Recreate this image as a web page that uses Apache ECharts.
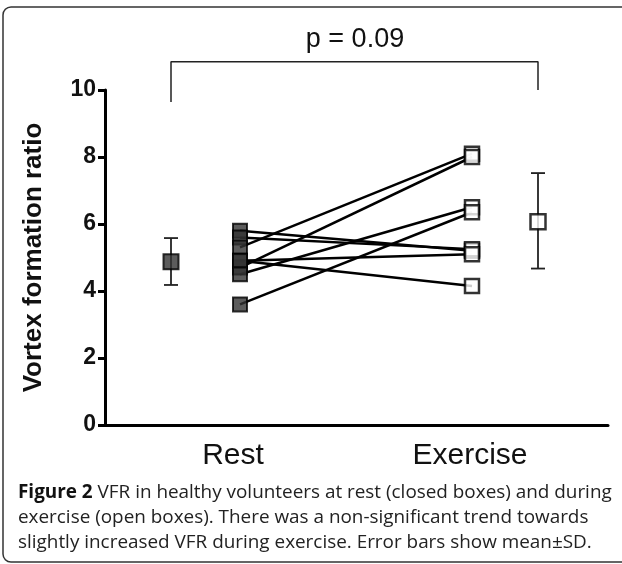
<!DOCTYPE html>
<html><head><meta charset="utf-8">
<script src="https://cdn.jsdelivr.net/npm/echarts@6/dist/echarts.min.js"></script>
<style>html,body{margin:0;padding:0;background:#fff}#c{width:622px;height:564px}</style>
</head><body><div id="c"></div>
<script>
// data
const restValues     = [5.8, 5.6, 5.3, 4.7, 4.9, 4.9, 4.5, 3.6];
const exerciseValues = [5.2, 5.25, 8.1, 8.0, 5.1, 4.15, 6.5, 6.35];
const meanRest = 4.87, sdLowRest = 4.18, sdHighRest = 5.58;
const meanEx = 6.07, sdLowEx = 4.67, sdHighEx = 7.52;
const groupLabels = ['Rest', 'Exercise'];
const pText = 'p = 0.09';
const bracketTop = 10.84, bracketLeftEnd = 9.64, bracketRightEnd = 10.0;
// x positions on a hidden value scale
const xMeanRest = 66, xRest = 135, xEx = 367, xMeanEx = 433;
const xLabelPos = [128, 365];

const chart = echarts.init(document.getElementById('c'));
const pairSeries = restValues.map((r, i) => ({
  type: 'line', data: [[xRest, r], [xEx, exerciseValues[i]]], symbol: 'none',
  lineStyle: { color: '#000', width: 2.5 }, z: 2, silent: true
}));
const errData = [[xMeanRest, sdLowRest, sdHighRest], [xMeanEx, sdLowEx, sdHighEx]];
chart.setOption({
  animation: false,
  grid: { left: 105, right: 14, top: 90, bottom: 139 },
  xAxis: {
    type: 'value', min: 0, max: 503, splitLine: { show: false },
    axisLine: { show: true, onZero: false, lineStyle: { color: '#000', width: 3 } },
    axisTick: { show: false },
    axisLabel: { customValues: xLabelPos, formatter: v => groupLabels[xLabelPos.indexOf(v)] || '',
      fontFamily: 'Liberation Sans', fontSize: 30, color: '#111', margin: 16 }
  },
  yAxis: {
    type: 'value', min: 0, max: 10, interval: 2, splitLine: { show: false },
    name: 'Vortex formation ratio', nameLocation: 'middle', nameGap: 58,
    nameTextStyle: { fontFamily: 'Liberation Sans', fontWeight: 'bold', fontSize: 26, color: '#111' },
    axisLine: { show: true, lineStyle: { color: '#000', width: 3 } },
    axisTick: { show: true, length: 7, lineStyle: { color: '#000', width: 3 } },
    axisLabel: { fontFamily: 'Liberation Sans', fontWeight: 'bold', fontSize: 23, color: '#111', margin: 9 }
  },
  series: [
    ...pairSeries,
    { type: 'scatter', data: restValues.map(v => [xRest, v]), symbol: 'rect', symbolSize: 14,
      itemStyle: { color: '#333', borderColor: '#000', borderWidth: 2 }, z: 5 },
    { type: 'scatter', data: exerciseValues.map(v => [xEx, v]), symbol: 'rect', symbolSize: 14,
      itemStyle: { color: '#fff', borderColor: '#000', borderWidth: 2.5 }, z: 5 },
    { type: 'custom', data: errData, z: 4,
      renderItem: (p, api) => {
        const x = api.value(0);
        const a = api.coord([x, api.value(1)]), b = api.coord([x, api.value(2)]);
        const st = { stroke: '#222', lineWidth: 1.8 };
        return { type: 'group', children: [
          { type: 'line', shape: { x1: a[0], y1: a[1], x2: b[0], y2: b[1] }, style: st },
          { type: 'line', shape: { x1: a[0]-7, y1: a[1], x2: a[0]+7, y2: a[1] }, style: st },
          { type: 'line', shape: { x1: b[0]-7, y1: b[1], x2: b[0]+7, y2: b[1] }, style: st }
        ]};
      } },
    { type: 'scatter', data: [[xMeanRest, meanRest]], symbol: 'rect', symbolSize: 15,
      itemStyle: { color: '#333', borderColor: '#000', borderWidth: 2 }, z: 6 },
    { type: 'scatter', data: [[xMeanEx, meanEx]], symbol: 'rect', symbolSize: 15,
      itemStyle: { color: '#fff', borderColor: '#000', borderWidth: 2.5 }, z: 6 },
    { type: 'line', data: [[xMeanRest, bracketLeftEnd], [xMeanRest, bracketTop], [xMeanEx, bracketTop], [xMeanEx, bracketRightEnd]],
      symbol: 'none', clip: false, lineStyle: { color: '#222', width: 1.5 }, silent: true }
  ],
  graphic: [
    { type: 'rect', shape: { x: 3, y: 7, width: 640, height: 555, r: 8 },
      style: { fill: 'none', stroke: '#333', lineWidth: 1.5 }, silent: true },
    { type: 'text', x: 355, y: 40, style: { text: pText, align: 'center', verticalAlign: 'middle',
      fontFamily: 'Liberation Sans', fontSize: 27, fill: '#111' } },
    { type: 'text', left: 18, top: 480, style: {
      text: '{b|Figure 2} VFR in healthy volunteers at rest (closed boxes) and during\nexercise (open boxes). There was a non-significant trend towards\nslightly increased VFR during exercise. Error bars show mean±SD.',
      fontFamily: 'Open Sans', fontSize: 18.9, lineHeight: 25, fill: '#222',
      rich: { b: { fontFamily: 'Open Sans', fontWeight: 'bold', fontSize: 18.9, fill: '#111', lineHeight: 25 } } } }
  ]
});
</script></body></html>
